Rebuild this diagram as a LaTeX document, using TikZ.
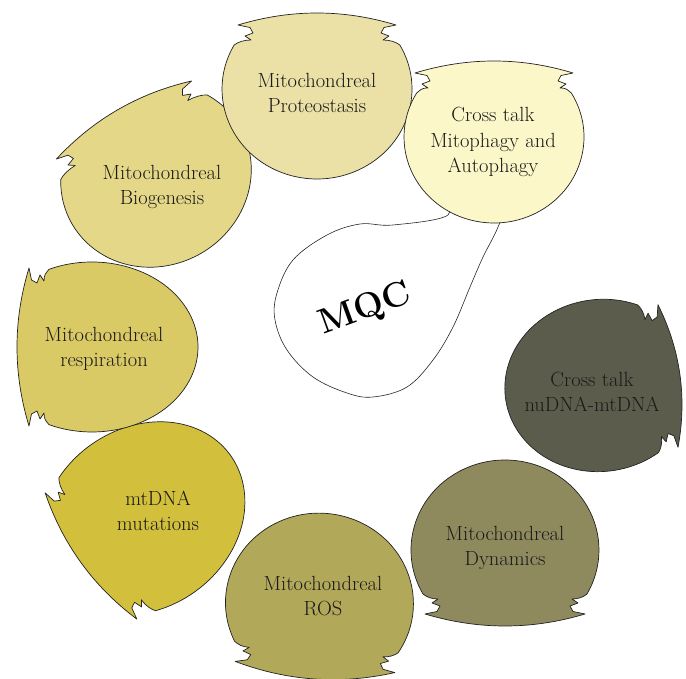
\documentclass[tikz,border=0pt]{standalone}
\usepackage{tikz}
\usetikzlibrary{positioning}
\definecolor{protcol}{HTML}{EBE0A6}
\definecolor{mitocol}{HTML}{FCF7C8}
\definecolor{biocol}{HTML}{E4D787}
\definecolor{respcol}{HTML}{D9CA66}
\definecolor{mutcol}{HTML}{D2C03C}
\definecolor{roscol}{HTML}{B2A85A}
\definecolor{dyncol}{HTML}{8F8A5E}
\definecolor{nucol}{HTML}{5C5C4C}
\definecolor{edgecol}{HTML}{222222}

\begin{document}
\begin{tikzpicture}[
  x=0.03cm, y=0.03cm,
  celltext/.style={
    font=\fontsize{17.5}{21.5}\selectfont, align=center, text=black!90
  },
  blob/.style={draw=edgecol, line width=0.5pt, fill=white},
  % #1 x radius, #2 y radius, #3 lid offset, #4 half lid, #5 colour
  pics/cell/.style n args={5}{code={
    \pgfmathsetmacro\tht{asin((#3-20)/#2)}
    \pgfmathsetmacro\sidex{#1*cos(\tht)}
    \filldraw[fill=#5, draw=edgecol, line width=0.6pt, line join=round]
      (-#4,0) .. controls ({-#4/3},16) and ({#4/3},16) .. (#4,0)
      -- ({#4-12},-2.5) -- ({#4-15},-8) -- ({#4-7},-11) -- ({#4-13},-15)
      .. controls ({#4-6},-15) and ({\sidex-4},-17) .. (\sidex,-20)
      arc[start angle=\tht, end angle={-180-\tht}, x radius=#1, y radius=#2]
      .. controls ({-\sidex+4},-17) and ({-#4+6},-15) .. ({-#4+13},-15)
      -- ({-#4+7},-11) -- ({-#4+15},-8) -- ({-#4+12},-2.5) -- cycle;
  }}
]
\useasboundingbox (0,0) rectangle (686,-679);

% central drop
\draw[blob] plot[smooth cycle, tension=0.6] coordinates {
  (510,-190) (498,-227) (483,-257) (470,-287) (453,-327) (433,-360)
  (407,-387) (373,-397) (347,-393) (313,-377) (287,-350) (275,-320)
  (277,-293) (293,-260) (327,-235) (360,-224) (393,-225) (448,-215)
  (440,-190)};
\node[rotate=20, font=\fontsize{30}{30}\selectfont\bfseries] (mqc) at (365,-310) {MQC};

% cells, clockwise from the right
\pic[rotate=-82] at (668,-376) {cell={86}{96}{68}{72}{nucol}};
\pic[rotate=180] at (505,-614) {cell={94}{90}{64}{80}{dyncol}};
\pic[rotate=176] at (315,-667) {cell={94}{90}{64}{80}{roscol}};
\pic[rotate=126] at (91,-556) {cell={90}{108}{64}{78}{mutcol}};
\pic[rotate=90] at (29,-347) {cell={85}{106}{63}{79}{respcol}};
\pic[rotate=30] at (124,-120) {cell={97}{90}{64}{78}{biocol}};
\pic at (317,-25) {cell={95}{90}{64}{79}{protcol}};
\pic at (494,-73) {cell={90}{86}{64}{79}{mitocol}};

% labels
\node[celltext] (proteo) at (317,-93) {Mitochondreal\\Proteostasis};
\node[celltext] (mito) at (493,-142) {Cross talk\\Mitophagy and\\Autophagy};
\node[celltext] (biogen) at (162,-187) {Mitochondreal\\Biogenesis};
\node[celltext] (resp) at (104,-349) {Mitochondreal\\respiration};
\node[celltext] (mutat) at (158,-511) {mtDNA\\mutations};
\node[celltext] (ros) at (323,-596) {Mitochondreal\\ROS};
\node[celltext] (dynam) at (505,-548) {Mitochondreal\\Dynamics};
\node[celltext] (nudna) at (592,-392) {Cross talk\\nuDNA-mtDNA};

\end{tikzpicture}
\end{document}
